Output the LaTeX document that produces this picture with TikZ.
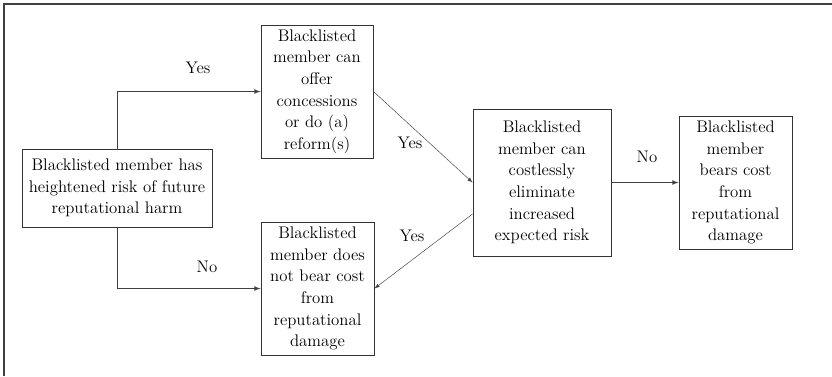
\documentclass[tikz,border=0pt]{standalone}
\usepackage{fontspec}
\begin{document}
\begin{tikzpicture}[
  x=0.75pt, y=-0.75pt,
  box/.style={rectangle, draw=black!80, line width=0.7pt, inner sep=1pt, align=center},
  link/.style={-latex, draw=black!75, line width=0.6pt},
  slant/.style={-latex, draw=black!75, line width=0.35pt},
  tag/.style={inner sep=0pt},
  font=\rmfamily\fontsize{12.6}{16.2}\selectfont
]
\useasboundingbox (0,0) rectangle (832,376);
\draw[black!75, line width=1pt] (4,376) -- (4,4) -- (832,4);

\node[box, minimum width=142.5pt, minimum height=58.5pt] (harm) at (117,188) {Blacklisted member has\\heightened risk of future\\reputational harm};
\node[box, minimum width=84pt, minimum height=99.75pt] (offer) at (317,91.5) {Blacklisted\\member can\\offer\\concessions\\or do (a)\\reform(s)};
\node[box, minimum width=84.75pt, minimum height=99.75pt] (nocost) at (317.5,288.5) {Blacklisted\\member does\\not bear cost\\from\\reputational\\damage};
\node[box, minimum width=103.5pt, minimum height=110.25pt] (costless) at (542,182.5) {Blacklisted\\member can\\costlessly\\eliminate\\increased\\expected risk};
\node[box, minimum width=84.75pt, minimum height=99.75pt] (bears) at (735.5,182.5) {Blacklisted\\member\\bears cost\\from\\reputational\\damage};

\draw[link] (harm.north) |- (offer.west);
\draw[link] (harm.south) |- (nocost.west);
\draw[slant] (offer.east) -- (costless.west);
\draw[slant] ([yshift=-23.6pt]costless.west) -- (nocost.east);
\draw[link] (costless.east) -- (bears.west);

\node[tag] (yesup) at (198,68) {Yes};
\node[tag] (nodown) at (207,267) {No};
\node[tag] (yesdiag) at (410,143) {Yes};
\node[tag] (yesback) at (412,236) {Yes};
\node[tag] (noright) at (647,157) {No};
\end{tikzpicture}
\end{document}
